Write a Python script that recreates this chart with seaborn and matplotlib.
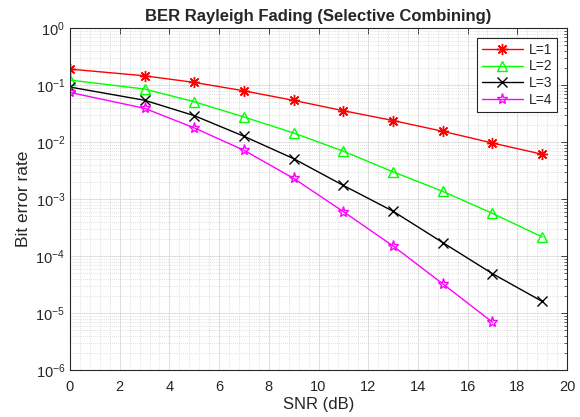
import numpy as np
import pandas as pd
import matplotlib
matplotlib.use("Agg")
import matplotlib.pyplot as plt
import seaborn as sns
from matplotlib.ticker import LogLocator, MultipleLocator, NullFormatter

snr = [0, 3, 5, 7, 9, 11, 13, 15, 17, 19]
ber_L1 = [0.19, 0.145, 0.111, 0.079, 0.0537, 0.0354, 0.0238, 0.0154, 0.0096, 0.0061]
ber_L2 = [0.122, 0.085, 0.0508, 0.0275, 0.0144, 0.00689, 0.0030, 0.00136, 0.00056, 0.000216]
ber_L3 = [0.092, 0.054, 0.029, 0.0126, 0.0051, 0.00173, 0.00061, 0.000172, 4.9e-5, 1.6e-5]
snr_L4 = [0, 3, 5, 7, 9, 11, 13, 15, 17]
ber_L4 = [0.074, 0.039, 0.0177, 0.00716, 0.0023, 0.0006, 0.00015, 3.25e-5, 6.9e-6]
labels = ["L=1", "L=2", "L=3", "L=4"]
colors = ["#FF0000", "#00FF00", "#000000", "#FF00FF"]
markers = [(8, 2, 0), "^", "x", "*"]
msizes = [8, 7, 7, 8]

sns.set_style("white")
plt.rcParams['font.family'] = ['Liberation Sans', 'DejaVu Sans']
plt.rcParams['mathtext.fontset'] = 'custom'
plt.rcParams['mathtext.rm'] = 'Liberation Sans'
plt.rcParams['mathtext.it'] = 'Liberation Sans'

fig = plt.figure(figsize=(5.8, 4.17), dpi=100)
ax = fig.add_axes([70/580, 1-370/417, (567-70)/580, (370-28)/417])

series = [(snr, ber_L1), (snr, ber_L2), (snr, ber_L3), (snr_L4, ber_L4)]
for (xs, ys), lab, c, m, ms in zip(series, labels, colors, markers, msizes):
    df = pd.DataFrame({"SNR": xs, "BER": ys})
    sns.lineplot(data=df, x="SNR", y="BER", ax=ax, color=c, marker=m,
                 markersize=ms, markeredgecolor=c, markerfacecolor='none',
                 markeredgewidth=1.0, linewidth=1.0, label=lab)

ax.set_yscale("log")
ax.set_xlim(0, 20)
ax.set_ylim(1e-6, 1)
ax.xaxis.set_major_locator(MultipleLocator(2))
ax.xaxis.set_minor_locator(MultipleLocator(0.4))
ax.xaxis.set_minor_formatter(NullFormatter())
ax.yaxis.set_major_locator(LogLocator(base=10, numticks=10))
ax.yaxis.set_minor_locator(LogLocator(base=10, subs=np.arange(2, 10), numticks=20))
ax.yaxis.set_minor_formatter(NullFormatter())

ax.grid(True, which='major', color='#d9d9d9', linewidth=0.6, linestyle='-')
ax.grid(True, which='minor', color='#c4c4c4', linewidth=0.5, linestyle=(0, (1, 2)))
ax.tick_params(which='both', direction='in', top=True, right=True, labelsize=10.5, colors='#262626')
ax.tick_params(which='major', length=4, width=0.6)
ax.tick_params(which='minor', length=2, width=0.5, labelbottom=False, labelleft=False)
ax.tick_params(axis='x', which='major', pad=7)
ax.xaxis.set_tick_params(which='minor', length=0)
for sp in ax.spines.values():
    sp.set_color('#262626')
    sp.set_linewidth(0.8)

ax.set_title("BER Rayleigh Fading (Selective Combining)", fontsize=12, fontweight='bold', pad=5)
ax.set_xlabel("SNR (dB)", fontsize=12, color='#262626', labelpad=2)
ax.set_ylabel("Bit error rate", fontsize=12.5, color='#262626', labelpad=3)

leg = ax.legend(loc='upper right', fontsize=10, frameon=True, fancybox=False,
                edgecolor='#262626', framealpha=1, borderaxespad=0.7,
                handlelength=3.0, labelspacing=0.2, borderpad=0.35, handletextpad=0.4)
leg.get_frame().set_linewidth(0.8)

fig.savefig("out.png", dpi=100)
